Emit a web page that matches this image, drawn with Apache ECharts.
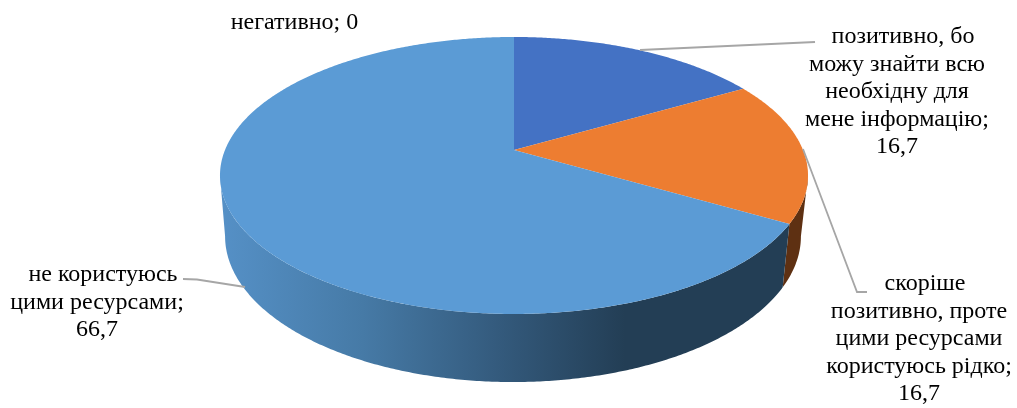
<!DOCTYPE html>
<html><head><meta charset="utf-8">
<style>html,body{margin:0;padding:0;background:#fff}#c{width:1017px;height:408px}</style>
<script src="https://cdn.jsdelivr.net/npm/echarts@6/dist/echarts.min.js"></script>
</head><body><div id="c"></div>
<script>
const categories = [
  "позитивно, бо\nможу знайти всю\nнеобхідну для\nмене інформацію",
  "скоріше\nпозитивно, проте\nцими ресурсами\nкористуюсь рідко",
  "негативно",
  "не користуюсь\nцими ресурсами"
];
const values = [16.7, 16.7, 0, 66.7];
const topColors = ["#4472c4", "#ed7d31", "#a5a5a5", "#5b9bd5"];
const wallColors = ["#2d4a80", "#5e3012", "#6b6b6b", null];

// projection of the pie disc (perspective) onto the page
const topDisc = {cx: 514, cy: 150, A: 289, B: 133.8, k: 0.184};
const baseDisc = {cx: 513, cy: 209.5, A: 283, B: 140.8, k: 0.184};
function project(d, deg) {
  const t = deg * Math.PI / 180, u = Math.sin(t), v = -Math.cos(t), w = 1 - d.k * v;
  return [d.cx + d.A * u / w, d.cy + d.B * v / w];
}
function rim(d, a, b) {
  const out = [], n = Math.max(2, Math.ceil(Math.abs(b - a) * 2));
  for (let i = 0; i <= n; i++) out.push(project(d, a + (b - a) * i / n));
  return out;
}
const wallFrom = 100.6, wallTo = 259.4;
const blueWall = {type: 'linear', x: 222, y: 0, x2: 625, y2: 0, global: true, colorStops: [
  {offset: 0, color: '#5590c6'}, {offset: 0.35, color: '#467aa6'},
  {offset: 0.7, color: '#33597b'}, {offset: 1, color: '#233e55'}]};

const indent = '\u00a0\u00a0';
const labelLayout = [
  {x: 897, y: 23.5, lead: indent, line: [[640, 50], [815, 42]]},
  {x: 919, y: 270.5, lead: indent, line: [[803, 149], [857, 292], [867, 292]]},
  {x: 294.5, y: 9, lead: '', line: null},
  {x: 97, y: 261.5, lead: indent, line: [[183, 279], [197, 279.5], [245, 287]]}
];
const total = values.reduce((a, b) => a + b, 0);
const fmt = v => String(v).replace('.', ',');

function renderSlice(params, api) {
  const i = params.dataIndex;
  let before = 0;
  for (let j = 0; j < i; j++) before += values[j];
  const a = before / total * 360, b = (before + api.value(1)) / total * 360;
  const kids = [];
  const s = Math.max(a, wallFrom), e = Math.min(b, wallTo);
  if (e > s) {
    kids.push({type: 'polygon', shape: {points: rim(topDisc, s, e).concat(rim(baseDisc, e, s))},
      style: {fill: wallColors[i] || blueWall}});
  }
  if (b > a) {
    kids.push({type: 'polygon', shape: {points: [[topDisc.cx, topDisc.cy]].concat(rim(topDisc, a, b))},
      style: {fill: topColors[i]}});
  }
  const L = labelLayout[i];
  if (L.line) kids.push({type: 'polyline', shape: {points: L.line}, z2: 5,
    style: {fill: null, stroke: '#a6a6a6', lineWidth: 1.8}});
  const sep = categories[i].indexOf('\n') < 0 ? ' ' : '\n';
  kids.push({type: 'text', z2: 6, x: L.x, y: L.y, style: {
    text: L.lead + categories[i] + ';' + sep + fmt(values[i]),
    fill: '#000', align: 'center', verticalAlign: 'top',
    font: '24px "Liberation Serif"', lineHeight: 27.4}});
  return {type: 'group', children: kids};
}

const chart = echarts.init(document.getElementById('c'), null, {renderer: 'canvas'});
chart.setOption({
  animation: false,
  backgroundColor: '#fff',
  series: [{
    type: 'custom',
    coordinateSystem: 'none',
    renderItem: renderSlice,
    encode: {value: 1},
    data: categories.map((c, i) => [i, values[i]])
  }]
});
</script></body></html>
